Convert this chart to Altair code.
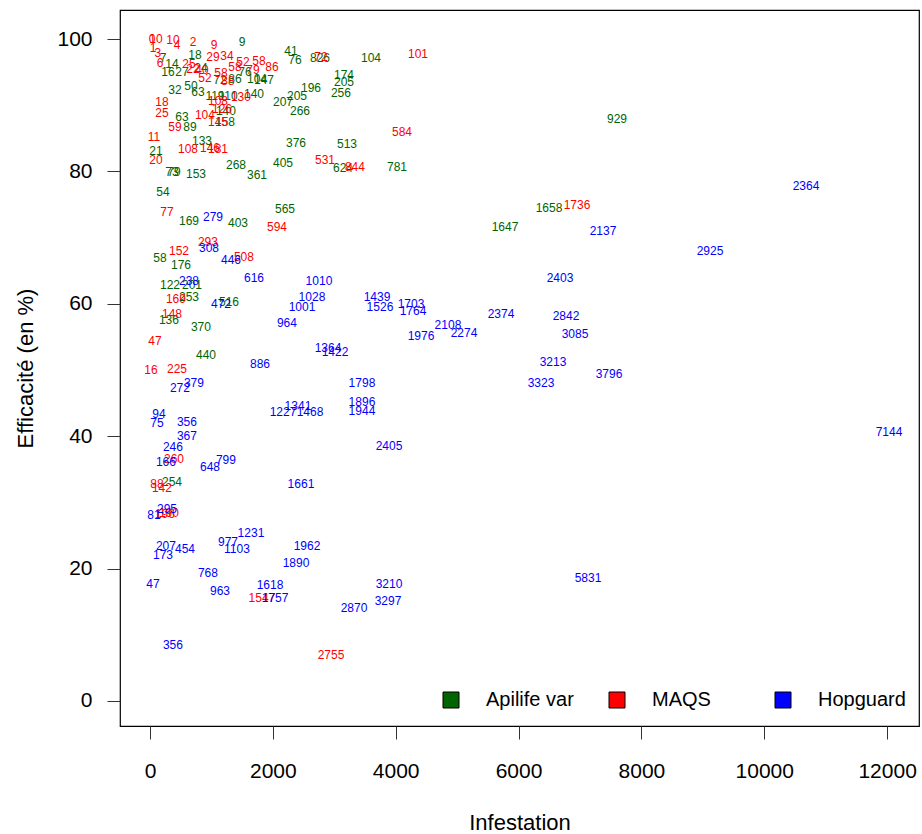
import altair as alt
import pandas as pd

# Efficacité des traitements selon l'infestation initiale.
# Chaque point est affiché par son étiquette (nombre de varroas).

# --- Apilife var ---
api_x = [1498, 2295, 2361, 2768, 3598, 3158, 3158, 3109, 2621, 2393, 2165, 2442,
         733, 358, 293, 521, 830, 212, 407, 667, 781, 1140, 1384, 1547, 1742, 1856,
         1058, 1270, 1693, 1237, 1221, 521, 651, 847, 98, 358, 391, 749, 1400, 1742,
         2165, 2377, 3207, 3142, 4021, 212, 635, 1433, 2198, 163, 505, 326, 684, 635,
         1286, 309, 830, 912, 358, 7603, 6496, 5779]
api_y = [99.6, 98.2, 96.9, 97.2, 97.2, 94.6, 93.5, 91.9, 92.6, 91.4, 90.5, 89.1,
         97.6, 96.3, 95.0, 95.0, 95.6, 97.2, 92.3, 92.9, 92.0, 93.8, 94.0, 95.0, 94.0, 93.8,
         91.4, 91.4, 91.7, 89.1, 87.5, 88.2, 86.7, 84.6, 83.1, 79.9, 79.9, 79.6, 81.0, 79.5,
         81.3, 84.3, 84.2, 80.5, 80.7, 76.9, 72.5, 72.2, 74.3, 66.9, 65.9, 62.9, 62.9, 61.0,
         60.3, 57.6, 56.5, 52.3, 33.1, 87.9, 74.5, 71.6]
api_lab = ["9", "41", "76", "826", "104", "174", "205", "256", "196", "205", "207", "266",
           "18", "14", "16", "27", "24", "7", "32", "50", "63", "72", "86", "76", "104", "147",
           "119", "110", "140", "140", "158", "63", "89", "133", "21", "73", "79", "153", "268", "361",
           "405", "376", "513", "624", "781", "54", "169", "403", "565", "58", "176", "122", "201", "253",
           "516", "136", "370", "440", "254", "929", "1658", "1647"]

# --- MAQS ---
maqs_x = [33, 98, 49, 130, 163, 374, 440, 700, 1042, 1026, 1254, 1514, 1775, 1986,
          1384, 847, 895, 1156, 635, 700, 2784, 1677, 1270, 1481, 1107, 1172, 895, 1107,
          407, 65, 977, 619, 1107, 98, 195, 195, 4363, 4103, 2849, 3337, 277, 2068,
          944, 472, 1530, 423, 358, 81, 16, 440, 391, 114, 195, 309, 244, 1823, 2947, 6952]
maqs_y = [100.0, 100.0, 98.7, 97.9, 96.4, 99.9, 99.1, 99.6, 99.1, 97.3, 97.5, 96.6, 96.7, 95.8,
          95.8, 95.3, 94.1, 94.9, 96.3, 95.5, 97.3, 95.3, 93.7, 91.3, 90.7, 89.5, 88.5, 87.5,
          86.7, 85.2, 83.6, 83.4, 83.4, 81.7, 90.5, 88.8, 97.7, 86.0, 81.7, 80.7, 73.9, 71.6,
          69.4, 68.0, 67.1, 60.7, 58.5, 54.4, 50.0, 50.2, 36.6, 32.8, 32.2, 28.4, 28.3, 15.6, 7.0, 74.9]
maqs_lab = ["0", "10", "1", "3", "6", "10", "4", "2", "9", "29", "34", "52", "58", "86",
            "58", "40", "52", "58", "25", "22", "72", "79", "88", "130", "108", "126", "104", "145",
            "59", "11", "146", "108", "181", "20", "18", "25", "101", "584", "531", "844", "77", "594",
            "293", "152", "508", "169", "148", "47", "16", "225", "260", "88", "142", "190", "196",
            "1547", "2755", "1736"]

# --- Hopguard ---
hop_x = [1026, 961, 1319, 1693, 635, 1156, 2751, 2637, 2475, 2230, 1791, 716, 488,
         2165, 2409, 2605, 147, 114, 602, 602, 374, 260, 977, 1237, 2458, 65, 277,
         1644, 1270, 1416, 260, 212, 570, 2556, 2377, 944, 49, 1140, 1954, 2035,
         3891, 3875, 3321, 374, 7131, 12031, 10680, 7375, 9117, 6675, 5714, 6772, 6919,
         6561, 7473, 6365, 3696, 3744, 4249, 4282, 4851, 5112, 4412, 2898, 3012,
         3451, 3451, 3451, 3891]
hop_y = [73.1, 68.4, 66.6, 63.9, 63.5, 60.0, 63.5, 61.0, 59.5, 57.1, 50.9, 48.0, 47.3,
         43.7, 44.6, 43.7, 43.4, 42.0, 42.2, 40.0, 38.4, 36.1, 35.4, 36.4, 32.8, 28.1, 29.0,
         25.4, 24.0, 23.0, 23.4, 22.1, 23.0, 23.4, 20.9, 19.3, 17.7, 16.6, 17.5, 15.6,
         17.7, 15.1, 14.1, 8.5, 18.6, 40.6, 77.8, 71.0, 68.0, 63.9, 58.5, 58.2, 55.5,
         51.2, 49.4, 48.0, 61.0, 59.5, 60.0, 58.9, 56.8, 55.6, 55.2, 53.3, 52.7,
         48.0, 45.2, 43.8, 38.5]
hop_lab = ["279", "308", "446", "616", "238", "472", "1010", "1028", "1001", "964", "886", "379", "272",
           "1227", "1341", "1468", "94", "75", "356", "367", "246", "166", "648", "799", "1661", "81", "295",
           "1231", "977", "1103", "207", "173", "454", "1962", "1890", "768", "47", "963", "1618", "1757",
           "3210", "3297", "2870", "356", "5831", "7144", "2364", "2137", "2925", "2403", "2374", "2842", "3085",
           "3213", "3796", "3323", "1439", "1526", "1703", "1764", "2108", "2274", "1976", "1364", "1422",
           "1798", "1896", "1944", "2405"]

groups = ["Apilife var", "MAQS", "Hopguard"]
colors = ["#006400", "#FF0000", "#0000FF"]

rows = []
for grp, xs, ys, labs in [("Apilife var", api_x, api_y, api_lab),
                          ("MAQS", maqs_x, maqs_y, maqs_lab),
                          ("Hopguard", hop_x, hop_y, hop_lab)]:
    for x, y, lab in zip(xs, ys, labs):
        rows.append({"Infestation": x, "Efficacite": y, "label": lab, "Traitement": grp})
df = pd.DataFrame(rows)

FONT = "Liberation Sans, Arial, sans-serif"

chart = alt.Chart(df).mark_text(
    font=FONT, fontSize=12, align="center", baseline="middle"
).encode(
    x=alt.X("Infestation:Q",
            scale=alt.Scale(domain=[-488, 12519], nice=False, zero=False),
            axis=alt.Axis(values=[0, 2000, 4000, 6000, 8000, 10000, 12000],
                          format="d", title="Infestation", grid=False, domain=False,
                          tickSize=13, tickColor="#333333", labelPadding=21,
                          labelFontSize=21, labelFont=FONT, labelColor="black",
                          titleFontSize=22, titleFont=FONT, titleFontWeight="normal",
                          titleColor="black", titleY=96, titleBaseline="middle")),
    y=alt.Y("Efficacite:Q",
            scale=alt.Scale(domain=[-3.8, 104.4], nice=False, zero=False),
            axis=alt.Axis(values=[0, 20, 40, 60, 80, 100], title="Efficacité (en %)",
                          grid=False, domain=False, tickSize=13, tickColor="#333333",
                          labelPadding=15, labelFontSize=21, labelFont=FONT,
                          labelColor="black", titleFontSize=22, titleFont=FONT,
                          titleFontWeight="normal", titleColor="black",
                          titleX=-95, titleBaseline="middle")),
    text=alt.Text("label:N"),
    color=alt.Color("Traitement:N",
                    scale=alt.Scale(domain=groups, range=colors),
                    legend=alt.Legend(title=None, orient="none", legendX=321, legendY=680,
                                      direction="horizontal", columns=3, gridAlign="all",
                                      columnPadding=33, padding=0,
                                      symbolType="square", symbolSize=256,
                                      symbolStrokeColor="black", symbolStrokeWidth=1,
                                      symbolOpacity=1, labelFontSize=20, labelFont=FONT,
                                      labelColor="black", labelOffset=25)),
).properties(
    width=799, height=716,
    background="white",
    autosize=alt.AutoSizeParams(type="none"),
    padding={"left": 120, "top": 10, "right": 3, "bottom": 108},
).configure_view(
    stroke="black", strokeWidth=1.2
)

chart.save("out.html", embed_options={"renderer": "svg", "actions": False})
